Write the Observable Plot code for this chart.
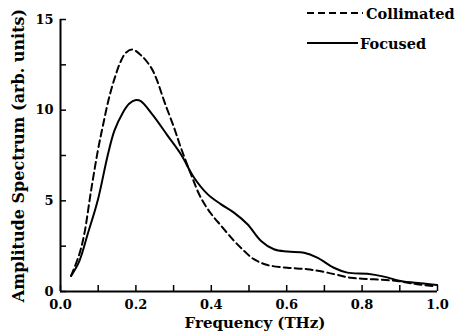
<!DOCTYPE html>
<html>
<head>
<meta charset="utf-8">
<script src="https://cdn.jsdelivr.net/npm/d3@7"></script>
<script src="https://cdn.jsdelivr.net/npm/@observablehq/plot@0.6"></script>
<style>
  html, body { margin: 0; padding: 0; background: #fff; }
  #wrap { position: relative; width: 456px; height: 333px; font-family: "DejaVu Serif", serif; font-weight: bold; }
  #wrap svg text { font-family: "DejaVu Serif", serif; }
  #legend { position: absolute; left: 0; top: 0; width: 456px; height: 60px; pointer-events: none; }
</style>
</head>
<body>
<div id="wrap"></div>
<script>
// Collimated (dashed)
const colFreq = [0.028, 0.05, 0.063, 0.081, 0.099, 0.112, 0.129, 0.145, 0.16, 0.175, 0.191, 0.215, 0.24, 0.255, 0.275, 0.301, 0.319, 0.346, 0.372, 0.399, 0.425, 0.46, 0.487, 0.513, 0.549, 0.602, 0.655, 0.708, 0.77, 0.831, 0.893, 0.946, 0.99];
const colAmp  = [0.86, 2.06, 3.16, 5.55, 7.76, 9.1, 10.7, 11.85, 12.7, 13.2, 13.34, 13.0, 12.36, 11.7, 10.5, 9.05, 7.95, 6.47, 5.18, 4.3, 3.65, 2.8, 2.24, 1.78, 1.46, 1.31, 1.23, 1.04, 0.76, 0.67, 0.58, 0.4, 0.30];
// Focused (solid)
const focFreq = [0.028, 0.05, 0.072, 0.0985, 0.125, 0.143, 0.165, 0.182, 0.2, 0.213, 0.244, 0.284, 0.319, 0.354, 0.39, 0.425, 0.46, 0.496, 0.532, 0.566, 0.602, 0.646, 0.681, 0.725, 0.761, 0.814, 0.858, 0.902, 0.955, 0.999];
const focAmp  = [0.86, 1.68, 3.16, 5.0, 7.49, 8.87, 9.85, 10.35, 10.56, 10.5, 9.75, 8.6, 7.58, 6.29, 5.37, 4.82, 4.35, 3.71, 2.79, 2.33, 2.2, 2.14, 1.87, 1.31, 1.04, 0.98, 0.82, 0.58, 0.45, 0.36];

const xTickAll = [0, 0.1, 0.2, 0.3, 0.4, 0.5, 0.6, 0.7, 0.8, 0.9, 1.0];
const xTickLabels = [0, 0.2, 0.4, 0.6, 0.8, 1.0];
const yTickAll = [0, 2.5, 5, 7.5, 10, 12.5, 15];
const yTickLabels = [0, 5, 10, 15];
const seriesNames = ["Collimated", "Focused"];
const xTitle = "Frequency (THz)";
const yTitle = "Amplitude Spectrum (arb. units)";

const col = colFreq.map((f, i) => ({f, a: colAmp[i]}));
const foc = focFreq.map((f, i) => ({f, a: focAmp[i]}));

const FONT = "DejaVu Serif, serif";

const chart = Plot.plot({
  width: 456,
  height: 333,
  marginLeft: 60,
  marginRight: 19,
  marginTop: 19,
  marginBottom: 42,
  style: {fontFamily: FONT, fontWeight: "bold", fontSize: "13px", color: "#000", background: "#fff"},
  x: {domain: [0, 1]},
  y: {domain: [0, 15]},
  marks: [
    Plot.axisX(xTickAll, {tickSize: -6, strokeWidth: 1.5, tickFormat: () => "", label: null}),
    Plot.axisX(xTickLabels, {tickSize: 0, tickPadding: 8, tickFormat: d3.format(".1f"), label: null, fontSize: 13}),
    Plot.axisY(yTickAll, {tickSize: -6, strokeWidth: 1.5, tickFormat: () => "", label: null}),
    Plot.axisY(yTickLabels, {tickSize: 0, tickPadding: 7, tickFormat: d3.format("d"), label: null, fontSize: 13}),
    Plot.ruleX([0], {strokeWidth: 2}),
    Plot.ruleY([0], {strokeWidth: 2}),
    Plot.line(col, {x: "f", y: "a", curve: "catmull-rom", stroke: "#000", strokeWidth: 2, strokeDasharray: "7,4"}),
    Plot.line(foc, {x: "f", y: "a", curve: "catmull-rom", stroke: "#000", strokeWidth: 2}),
    Plot.text([xTitle], {frameAnchor: "bottom", lineAnchor: "middle", dy: 32, dx: 6, fontSize: 15, fontWeight: "bold"}),
    Plot.text([yTitle], {frameAnchor: "left", textAnchor: "middle", lineAnchor: "middle", rotate: -90, dx: -42, fontSize: 16, fontWeight: "bold"})
  ]
});

const wrap = document.getElementById("wrap");
wrap.appendChild(chart);

// Legend overlay
const ns = "http://www.w3.org/2000/svg";
const leg = document.createElementNS(ns, "svg");
leg.setAttribute("id", "legend");
leg.setAttribute("width", 456);
leg.setAttribute("height", 60);
const rows = [
  {name: seriesNames[0], x1: 307, x2: 363, y: 13, tx: 366, dash: "7,4"},
  {name: seriesNames[1], x1: 307, x2: 358, y: 43, tx: 360, dash: null}
];
for (const r of rows) {
  const l = document.createElementNS(ns, "line");
  l.setAttribute("x1", r.x1); l.setAttribute("x2", r.x2);
  l.setAttribute("y1", r.y); l.setAttribute("y2", r.y);
  l.setAttribute("stroke", "#000"); l.setAttribute("stroke-width", 2);
  if (r.dash) l.setAttribute("stroke-dasharray", r.dash);
  leg.appendChild(l);
  const t = document.createElementNS(ns, "text");
  t.setAttribute("x", r.tx); t.setAttribute("y", r.y);
  t.setAttribute("dominant-baseline", "central");
  t.setAttribute("font-family", FONT);
  t.setAttribute("font-weight", "bold");
  t.setAttribute("font-size", 14.5);
  t.textContent = r.name;
  leg.appendChild(t);
}
wrap.appendChild(leg);
</script>
</body>
</html>
